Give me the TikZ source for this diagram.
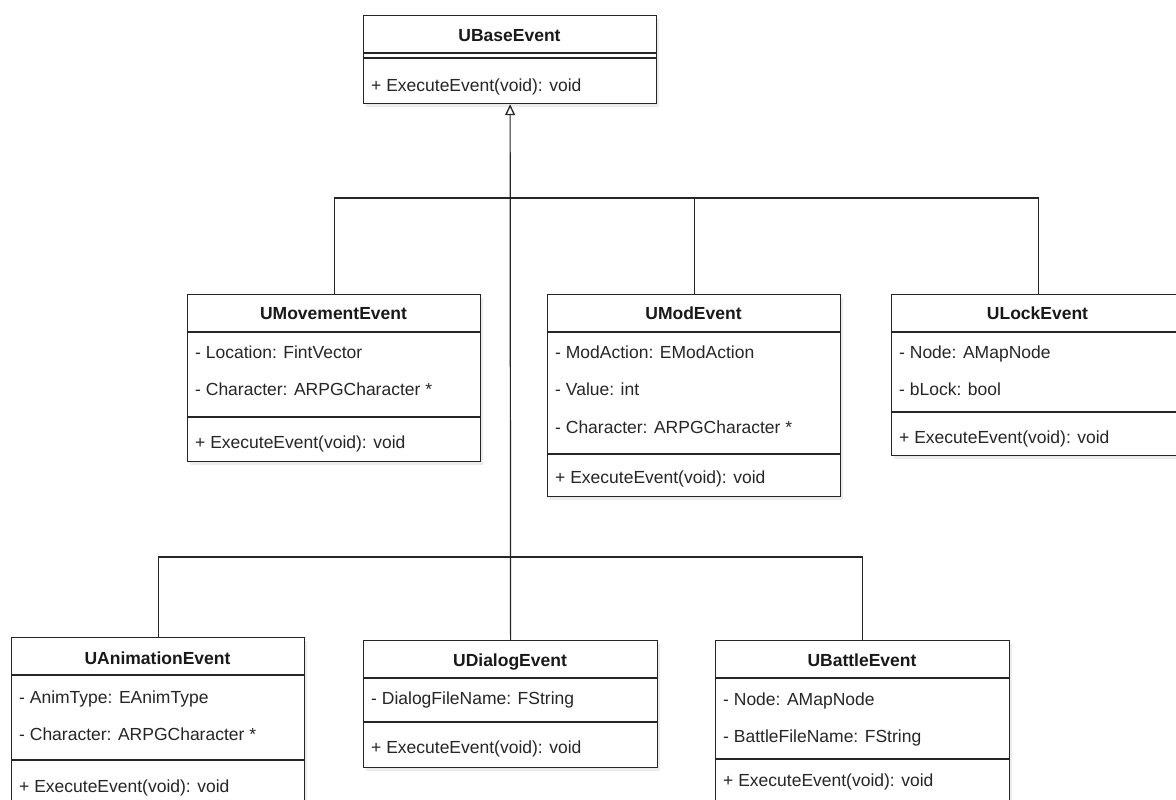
\documentclass[tikz,border=0pt]{standalone}
\usepackage{fontspec}
\setmainfont{Liberation Sans}
\usetikzlibrary{arrows.meta,shadows}
\begin{document}
\begin{tikzpicture}[x=1pt,y=-1pt,
  box/.style={draw=black!85, line width=1.2pt, fill=white, inner sep=0pt, anchor=north west,
    minimum width=293pt,
    drop shadow={shadow xshift=2.5pt, shadow yshift=-3pt, opacity=0.15}},
  sepline/.style={draw=black!85, line width=1.2pt},
  ttl/.style={font=\fontsize{17.5}{20}\selectfont\bfseries, text=black!90, anchor=base, inner sep=0pt},
  mem/.style={font=\fontsize{17.5}{20}\selectfont, text=black!85, anchor=base west, inner sep=0pt},
  conn/.style={draw=black!85, line width=1.2pt},
]
\useasboundingbox (0,0) rectangle (1176,800);
\fill[white] (0,0) rectangle (1176,800);
\clip (0,0) rectangle (1176,800);

% ---------- UBaseEvent ----------
\node[box, minimum height=88pt] (base) at (363,15) {};
\draw[sepline] (base.west |- 0,53) -- (base.east |- 0,53);
\draw[sepline] (base.west |- 0,58) -- (base.east |- 0,58);
\node[ttl] (baset) at (509.5,41.3) {UBaseEvent};
\node[mem] (basem) at (371,91.3) {+ ExecuteEvent(void): void};

% ---------- UMovementEvent ----------
\node[box, minimum height=167pt] (mov) at (187,294) {};
\draw[sepline] (mov.west |- 0,332) -- (mov.east |- 0,332);
\draw[sepline] (mov.west |- 0,417) -- (mov.east |- 0,417);
\node[ttl] (movt) at (333.5,319.3) {UMovementEvent};
\node[mem] (mova) at (195,358.3) {- Location: FintVector};
\node[mem] (movb) at (195,395.8) {- Character: ARPGCharacter *};
\node[mem] (movm) at (195,448.8) {+ ExecuteEvent(void): void};

% ---------- UModEvent ----------
\node[box, minimum height=202pt] (mod) at (547,294) {};
\draw[sepline] (mod.west |- 0,332) -- (mod.east |- 0,332);
\draw[sepline] (mod.west |- 0,454) -- (mod.east |- 0,454);
\node[ttl] (modt) at (693.5,319.3) {UModEvent};
\node[mem] (moda) at (555,358.3) {- ModAction: EModAction};
\node[mem] (modb) at (555,395.8) {- Value: int};
\node[mem] (modc) at (555,433.8) {- Character: ARPGCharacter *};
\node[mem] (modm) at (555,483.3) {+ ExecuteEvent(void): void};

% ---------- ULockEvent ----------
\node[box, minimum height=161pt] (lock) at (891,294) {};
\draw[sepline] (lock.west |- 0,332) -- (lock.east |- 0,332);
\draw[sepline] (lock.west |- 0,412) -- (lock.east |- 0,412);
\node[ttl] (lockt) at (1037.5,319.3) {ULockEvent};
\node[mem] (locka) at (899,358.3) {- Node: AMapNode};
\node[mem] (lockb) at (899,395.8) {- bLock: bool};
\node[mem] (lockm) at (899,443) {+ ExecuteEvent(void): void};

% ---------- UAnimationEvent ----------
\node[box, minimum height=180pt] (anim) at (11,637) {};
\draw[sepline] (anim.west |- 0,675) -- (anim.east |- 0,675);
\draw[sepline] (anim.west |- 0,760) -- (anim.east |- 0,760);
\node[ttl] (animt) at (157.5,664) {UAnimationEvent};
\node[mem] (anima) at (19,703) {- AnimType: EAnimType};
\node[mem] (animb) at (19,740.8) {- Character: ARPGCharacter *};
\node[mem] (animm) at (19,792.1) {+ ExecuteEvent(void): void};

% ---------- UDialogEvent ----------
\node[box, minimum height=127pt, minimum width=294pt] (dlg) at (363,640) {};
\draw[sepline] (dlg.west |- 0,678) -- (dlg.east |- 0,678);
\draw[sepline] (dlg.west |- 0,722) -- (dlg.east |- 0,722);
\node[ttl] (dlgt) at (510,666.6) {UDialogEvent};
\node[mem] (dlga) at (371,704.6) {- DialogFileName: FString};
\node[mem] (dlgm) at (371,753.8) {+ ExecuteEvent(void): void};

% ---------- UBattleEvent ----------
\node[box, minimum height=180pt, minimum width=294pt] (bat) at (715,640) {};
\draw[sepline] (bat.west |- 0,678) -- (bat.east |- 0,678);
\draw[sepline] (bat.west |- 0,759) -- (bat.east |- 0,759);
\node[ttl] (batt) at (862,666.6) {UBattleEvent};
\node[mem] (bata) at (723,705) {- Node: AMapNode};
\node[mem] (batb) at (723,742.8) {- BattleFileName: FString};
\node[mem] (batm) at (723,786.3) {+ ExecuteEvent(void): void};

% ---------- connectors ----------
\coordinate (j1) at (510,198);
\coordinate (j2) at (510,557);
\draw[conn, -{Triangle[open, length=11pt, width=10pt, line width=1.3pt]}] (dlg.north) -- (base.south);
\draw[conn] (mov.north) |- (j1);
\draw[conn] (mod.north) |- (j1);
\draw[conn] (lock.north) |- (j1);
\draw[conn] (anim.north) |- (j2);
\draw[conn] (bat.north) |- (j2);
\end{tikzpicture}
\end{document}
